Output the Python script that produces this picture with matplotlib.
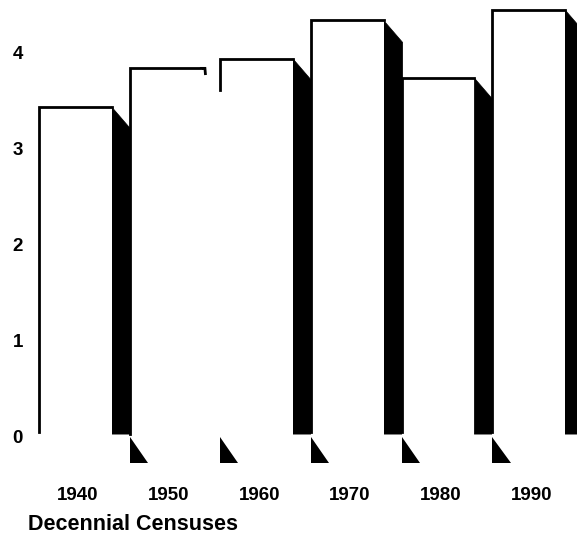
import matplotlib.pyplot as plt
from matplotlib.patches import Polygon

plt.rcParams["font.family"] = ["Liberation Sans", "DejaVu Sans"]
plt.rcParams["font.weight"] = "bold"

# Decennial census values
years = ["1940", "1950", "1960", "1970", "1980", "1990"]
values = [3.43, 3.83, 3.93, 4.33, 3.73, 4.44]
yticks = [0, 1, 2, 3, 4]

width = 0.8      # front face width
dx, dy = 0.21, 0.23   # depth of the black side

fig = plt.figure(figsize=(5.77, 5.34), dpi=100)
ax = fig.add_axes([0.0471, 0.1116, 0.9525, 0.888])

for i, v in enumerate(values):
    left = i - width / 2
    right = i + width / 2
    # black side (the 1950 one is lost in the original, only a stub is left)
    if years[i] == "1950":
        ax.plot([right - 0.01, right + 0.03, right + 0.035],
                [v, v, v - 0.055], color="black", lw=2,
                solid_joinstyle="miter")
    else:
        ax.add_patch(Polygon([(right, v), (right + dx, v - dy),
                              (right + dx, 0.02), (right, 0.02)],
                             closed=True, fc="black", ec="black", lw=0.5))
    # front face
    ax.bar(i, v, width=width, color="white", edgecolor="none", zorder=2)
    # left and top outline
    if years[i] == "1960":
        ax.plot([left, left, right], [v - 0.33, v, v], color="black",
                lw=2, zorder=3, solid_joinstyle="miter")
    elif years[i] == "1950":
        ax.plot([left, left, right], [0.02, v, v], color="black",
                lw=2, zorder=3, solid_joinstyle="miter")
    else:
        ax.plot([left, left, right], [0.04, v, v], color="black",
                lw=2, zorder=3, solid_joinstyle="miter")
    # small floor wedge under the left edge of the later bars
    if i > 0:
        ax.add_patch(Polygon([(left, -0.01), (left, -0.28),
                              (left + 0.2, -0.28)],
                             closed=True, fc="black", ec="none"))

ax.set_xlim(-0.53, 5.53)
ax.set_ylim(-0.4, 4.54)
ax.set_xticks([i + 0.03 for i in range(len(years))])
ax.set_xticklabels(years, fontsize=13.5, fontweight="bold")
ax.set_yticks(yticks)
ax.set_yticklabels([str(t) for t in yticks], fontsize=13.5, fontweight="bold")
ax.tick_params(length=0)
ax.tick_params(axis="y", pad=3)
ax.tick_params(axis="x", pad=9)
for s in ax.spines.values():
    s.set_visible(False)

fig.text(28 / 577, 1 - 525 / 534, "Decennial Censuses", fontsize=15.5,
         fontweight="bold", va="center", ha="left")

fig.savefig("out.png", dpi=100)
